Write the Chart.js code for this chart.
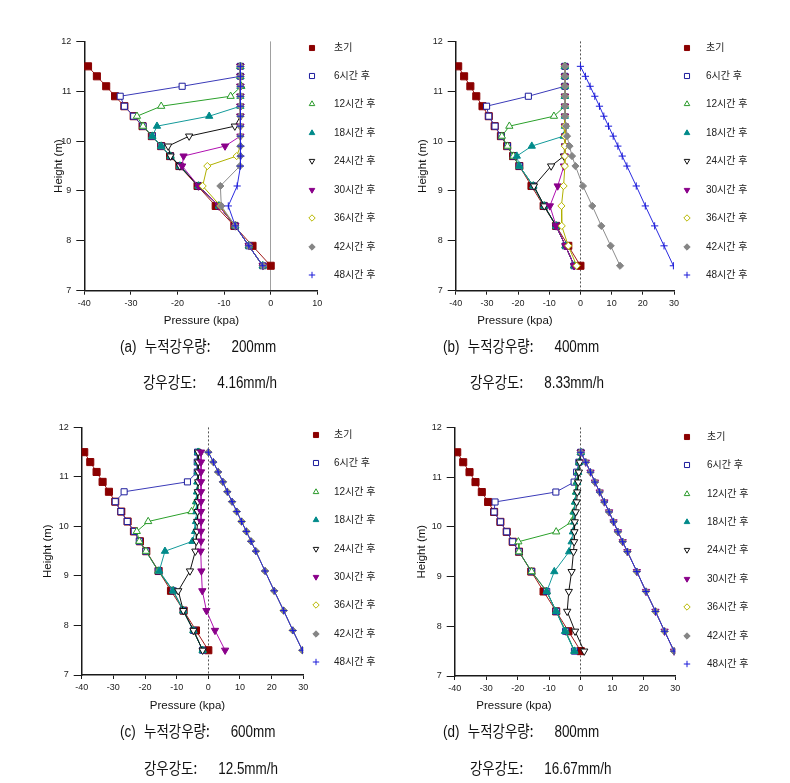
<!DOCTYPE html>
<html>
<head>
<meta charset="utf-8">
<script src="https://cdn.jsdelivr.net/npm/chart.js@4.4.1/dist/chart.umd.min.js"></script>
<style>
html,body{margin:0;padding:0;background:#fff}
body{width:790px;height:783px;position:relative;overflow:hidden;font-family:'Liberation Sans',Arial,sans-serif}
.box{position:absolute}
.lg{position:absolute;font:10px 'Liberation Sans','Noto Sans CJK KR',sans-serif;color:#222;white-space:nowrap;line-height:12px}
.mk{position:absolute}
.xt{position:absolute;font:11.5px 'Liberation Sans',Arial,sans-serif;color:#111;white-space:nowrap;line-height:14px;transform:translateX(-50%)}
.cap{position:absolute;font:16px 'Liberation Sans',Arial,sans-serif;color:#111;white-space:pre;line-height:20px;transform:scaleX(0.84);transform-origin:0 50%}
.cap .ko{font:16px 'Noto Sans CJK KR',sans-serif}
</style>
</head>
<body>
<script>
// heights of the observation nodes (m), top to bottom
const HEIGHTS = [11.5, 11.3, 11.1, 10.9, 10.7, 10.5, 10.3, 10.1, 9.9, 9.7, 9.5, 9.1, 8.7, 8.3, 7.9, 7.5];
const NAMES = ['초기', '6시간 후', '12시간 후', '18시간 후', '24시간 후', '30시간 후', '36시간 후', '42시간 후', '48시간 후'];
// initial pore pressure, same in every panel
const INIT = [-39.2, -37.3, -35.3, -33.4, -31.4, -29.4, -27.5, -25.5, -23.5, -21.6, -19.6, -15.7, -11.8, -7.8, -3.9, 0];

// (a) 200mm — rows: 6h,12h,18h,24h,30h,36h,42h,48h
const PRESS_A = [
  [-6.5, -6.5, -19.0, -32.3, -31.4, -29.4, -27.4, -25.4, -23.5, -21.5, -19.5, -15.5, -11.1, -7.6, -4.7, -1.7],
  [-6.5, -6.5, -6.3, -8.6, -23.5, -28.7, -27.4, -25.4, -23.5, -21.5, -19.5, -15.5, -11.1, -7.6, -4.7, -1.7],
  [-6.5, -6.5, -6.5, -6.5, -6.5, -13.2, -24.4, -25.4, -23.5, -21.5, -19.5, -15.5, -11.1, -7.6, -4.7, -1.7],
  [-6.5, -6.5, -6.5, -6.5, -6.5, -6.5, -7.7, -17.5, -22.0, -21.5, -19.5, -15.5, -11.1, -7.6, -4.7, -1.7],
  [-6.5, -6.5, -6.5, -6.5, -6.5, -6.5, -6.5, -6.5, -9.8, -18.7, -19.0, -15.5, -11.1, -7.6, -4.7, -1.7],
  [-6.5, -6.5, -6.5, -6.5, -6.5, -6.5, -6.5, -6.5, -6.5, -7.3, -13.6, -14.6, -10.8, -7.6, -4.7, -1.7],
  [-6.5, -6.5, -6.5, -6.5, -6.5, -6.5, -6.5, -6.5, -6.5, -6.5, -6.6, -10.8, -10.6, -7.6, -4.7, -1.7],
  [-6.5, -6.5, -6.5, -6.5, -6.5, -6.5, -6.5, -6.5, -6.4, -6.4, -6.5, -7.2, -9.1, -7.6, -4.7, -1.7]
];
// (b) 400mm
const PRESS_B = [
  [-5.0, -5.0, -5.0, -16.7, -30.1, -29.4, -27.4, -25.4, -23.4, -21.5, -19.6, -15.1, -11.6, -7.8, -4.8, -2.0],
  [-5.0, -5.0, -5.0, -5.0, -5.0, -8.5, -22.8, -25.2, -23.4, -21.5, -19.6, -15.1, -11.6, -7.8, -4.8, -2.0],
  [-5.0, -5.0, -5.0, -5.0, -5.0, -5.0, -5.0, -5.4, -15.6, -20.4, -19.6, -15.1, -11.6, -7.8, -4.8, -2.0],
  [-5.0, -5.0, -5.0, -5.0, -5.0, -5.0, -5.0, -5.0, -5.0, -5.3, -9.4, -14.9, -11.6, -7.8, -4.8, -2.0],
  [-5.0, -5.0, -5.0, -5.0, -5.0, -5.0, -5.0, -5.0, -5.0, -5.0, -5.3, -7.3, -9.8, -7.8, -4.8, -2.0],
  [-5.0, -5.0, -5.0, -5.0, -5.0, -5.0, -5.0, -5.0, -5.0, -5.0, -5.0, -5.4, -6.1, -6.0, -3.9, -1.2],
  [-5.0, -5.0, -5.0, -5.0, -5.0, -5.0, -4.6, -4.3, -3.5, -2.7, -1.6, 0.8, 3.8, 6.7, 9.7, 12.7],
  [0.0, 1.6, 3.1, 4.6, 6.1, 7.5, 9.0, 10.5, 12.0, 13.4, 14.9, 17.9, 20.8, 23.8, 26.8, 29.8]
];
// (c) 600mm
const PRESS_C = [
  [-3.4, -3.5, -3.5, -6.6, -26.6, -29.4, -27.6, -25.6, -23.4, -21.8, -19.7, -15.8, -11.1, -7.9, -4.7, -1.8],
  [-3.0, -3.2, -3.2, -3.3, -3.4, -3.9, -5.3, -19.0, -22.6, -21.8, -19.7, -15.8, -11.1, -7.9, -4.7, -1.8],
  [-3.3, -3.3, -3.4, -3.5, -3.6, -3.7, -3.8, -3.9, -4.2, -5.0, -13.7, -15.5, -11.1, -7.9, -4.7, -1.8],
  [-3.2, -3.2, -3.2, -3.2, -3.3, -3.3, -3.4, -3.5, -3.6, -3.8, -4.1, -5.8, -9.5, -7.9, -4.7, -1.8],
  [-2.3, -2.3, -2.3, -2.3, -2.3, -2.3, -2.3, -2.3, -2.3, -2.3, -2.4, -2.2, -1.9, -0.6, 2.1, 5.3],
  [0.0, 1.6, 3.1, 4.6, 6.0, 7.5, 9.0, 10.5, 12.0, 13.5, 15.0, 17.9, 20.8, 23.8, 26.7, 29.7],
  [0.0, 1.6, 3.1, 4.6, 6.0, 7.5, 9.0, 10.5, 12.0, 13.5, 15.0, 17.9, 20.8, 23.8, 26.7, 29.7],
  [0.0, 1.6, 3.1, 4.6, 6.0, 7.5, 9.0, 10.5, 12.0, 13.5, 15.0, 17.9, 20.8, 23.8, 26.7, 29.7]
];
// (d) 800mm
const PRESS_D = [
  [0.0, -0.6, -1.3, -2.1, -7.9, -27.2, -27.5, -25.5, -23.5, -21.6, -19.6, -15.6, -10.8, -7.8, -4.8, -2.0],
  [0.0, -0.5, -0.9, -1.3, -1.5, -1.8, -2.3, -2.9, -7.8, -19.8, -19.6, -15.6, -10.8, -7.8, -4.8, -2.0],
  [0.0, -0.4, -0.8, -1.1, -1.4, -1.8, -2.1, -2.1, -2.5, -2.9, -3.7, -8.4, -10.8, -7.8, -5.0, -2.0],
  [0.0, -0.3, -0.6, -0.8, -1.1, -1.3, -1.6, -1.9, -2.0, -2.1, -2.3, -2.9, -3.8, -4.3, -1.8, 1.1],
  [0.0, 1.6, 3.1, 4.5, 6.0, 7.5, 9.0, 10.4, 11.8, 13.3, 14.8, 17.8, 20.7, 23.7, 26.6, 29.6],
  [0.0, 1.6, 3.1, 4.5, 6.0, 7.5, 9.0, 10.4, 11.8, 13.3, 14.8, 17.8, 20.7, 23.7, 26.6, 29.6],
  [0.0, 1.6, 3.1, 4.5, 6.0, 7.5, 9.0, 10.4, 11.8, 13.3, 14.8, 17.8, 20.7, 23.7, 26.6, 29.6],
  [0.0, 1.6, 3.1, 4.5, 6.0, 7.5, 9.0, 10.4, 11.8, 13.3, 14.8, 17.8, 20.7, 23.7, 26.6, 29.6]
];

const X_MAX = [10, 30, 30, 30];
const X_MIN = -40, Y_MIN = 7, Y_MAX = 12;
const X_TITLE = 'Pressure (kpa)', Y_TITLE = 'Height (m)';
const CAPTIONS = ['(a) 누적강우량: 200mm', '(b) 누적강우량: 400mm', '(c) 누적강우량: 600mm', '(d) 누적강우량: 800mm'];
const INTENSITY = ['강우강도: 4.16mm/h', '강우강도: 8.33mm/h', '강우강도: 12.5mm/h', '강우강도: 16.67mm/h'];

// marker / line look per series
const STY = [
  {c:'#8b0000', l:'#a01818', ps:'rect', r:5},
  {c:'#1c1c9c', l:'#3a3ab8', ps:'rect', r:4.3, open:1},
  {c:'#2a9a2a', l:'#2aa02a', ps:'triangle', r:4.2, open:1},
  {c:'#008a8a', l:'#139a9a', ps:'triangle', r:4.2},
  {c:'#111111', l:'#111111', ps:'triangle', r:4.2, open:1, rot:180},
  {c:'#8a008a', l:'#b010b0', ps:'triangle', r:4.2, rot:180},
  {c:'#b8b800', l:'#b0b000', ps:'rectRot', r:3.6, open:1},
  {c:'#858585', l:'#8c8c8c', ps:'rectRot', r:3.6},
  {c:'#1a1ad8', l:'#2a2ae0', ps:'cross', r:3.6}
];

// where each panel sits on the page
const GEO = [
  {L:84.3, R:317.3, T:41, B:290.7, yT:25, dash:[], zc:'#a0a0a0', mx:311.5, tx:334, ly:47.5, dy:28.45, xtx:201.5, xty:320, c1x:120, c1y:343, c2x:143, c2y:379},
  {L:455.7, R:674, T:41, B:290.7, yT:33, dash:[2,2], zc:'#555', mx:686.5, tx:706, ly:47.5, dy:28.45, xtx:515, xty:320, c1x:443, c1y:343, c2x:470, c2y:379},
  {L:81.7, R:303.3, T:427.3, B:675, yT:34, dash:[2,2], zc:'#555', mx:316, tx:334, ly:435, dy:28.4, xtx:187.5, xty:705, c1x:120, c1y:728, c2x:144, c2y:765},
  {L:454.7, R:675.3, T:427.3, B:676, yT:33, dash:[2,2], zc:'#555', mx:687, tx:707, ly:436.7, dy:28.4, xtx:514, xty:705, c1x:443, c1y:728, c2x:470, c2y:765}
];
const ROWS = [PRESS_A, PRESS_B, PRESS_C, PRESS_D];

const AX = '#1a1a1a';
const tickFont = {family:"'Liberation Sans', Arial, sans-serif", size:9};

function el(tag, cls, css, txt, parent){
  const e=document.createElement(tag); if(cls)e.className=cls;
  Object.assign(e.style, css||{}); if(txt!=null)e.textContent=txt;
  (parent||document.body).appendChild(e); return e;
}

function drawMark(ctx, s, x, y, r){
  ctx.strokeStyle=s.c; ctx.fillStyle=s.open?'#fff':s.c; ctx.lineWidth=1;
  const o={pointStyle:s.ps, radius:r, rotation:s.rot||0, borderWidth:1};
  if(Chart.helpers && Chart.helpers.drawPoint){ Chart.helpers.drawPoint(ctx,o,x,y); return; }
  ctx.beginPath(); ctx.rect(x-r*0.7,y-r*0.7,r*1.4,r*1.4); ctx.fill(); ctx.stroke();
}

// caption line: optional "(x)" prefix, hangul label + colon, then the value (whole line squeezed 0.84)
function caption(x, y, str){
  const [lab, val] = str.split(': ');
  const d=el('div','cap',{left:x+'px',top:(y-10)+'px'});
  const m=lab.match(/^(\(.\)) ?(.*)$/);
  let ko;
  if(m){ el('span',null,null,m[1],d); ko=m[2]; } else ko=lab;
  el('span','ko',{marginLeft:m?'10px':'0'},ko+':',d);
  el('span',null,{marginLeft:'25px'},val,d);
}

function panel(i){
  const g=GEO[i], rows=ROWS[i];
  const yW=g.yT+11, xH=22;
  const left=Math.floor(g.L-yW-4), top=Math.floor(g.T-10);
  const w=Math.ceil(g.R+10-left), h=Math.ceil(g.B+xH+4-top);
  const pad={left:g.L-yW-left, top:g.T-top, right:left+w-g.R, bottom:top+h-g.B-xH};
  const box=el('div','box',{left:left+'px',top:top+'px',width:w+'px',height:h+'px'});
  const cv=document.createElement('canvas'); cv.width=w; cv.height=h; box.appendChild(cv);

  const datasets=NAMES.map((n,k)=>{
    const vals=k===0?INIT:rows[k-1], s=STY[k];
    return {label:n, data:vals.map((x,j)=>({x, y:HEIGHTS[j]})), showLine:true, tension:0,
      borderColor:s.l, backgroundColor:s.l, borderWidth:1,
      pointStyle:s.ps, pointRotation:s.rot||0, pointRadius:s.r, pointHoverRadius:s.r,
      pointBorderColor:s.c, pointBackgroundColor:s.open?'#fff':s.c, pointBorderWidth:1,
      order:8-k};
  });

  new Chart(cv,{type:'scatter',data:{datasets},options:{
    responsive:false, animation:false, events:[],
    layout:{padding:pad},
    plugins:{legend:{display:false},tooltip:{enabled:false}},
    scales:{
      x:{type:'linear',min:X_MIN,max:X_MAX[i],
        ticks:{stepSize:10,color:'#222',font:tickFont,padding:3,maxRotation:0,autoSkip:false},
        grid:{drawOnChartArea:true,lineWidth:1,tickLength:4,tickColor:AX,
          color:c=>(c.tick&&c.tick.value===0)?g.zc:'rgba(0,0,0,0)'},
        border:{color:AX,width:1.5,dash:g.dash},
        afterFit:s=>{s.height=xH;}},
      y:{type:'linear',min:Y_MIN,max:Y_MAX,
        ticks:{stepSize:1,color:'#222',font:tickFont,padding:5},
        grid:{drawOnChartArea:false,tickLength:8,tickColor:AX},
        border:{color:AX,width:1.5},
        title:{display:true,text:Y_TITLE,color:'#111',padding:{top:4,bottom:4},
          font:{family:"'Liberation Sans', Arial, sans-serif",size:11.5}},
        afterFit:s=>{s.width=yW;}}
    }}});

  // legend
  NAMES.forEach((n,k)=>{
    const cy=g.ly+k*g.dy;
    const m=el('canvas','mk',{left:(g.mx-6)+'px',top:(cy-6)+'px'}); m.width=12; m.height=12;
    drawMark(m.getContext('2d'),STY[k],6,6,STY[k].ps==='rect'?3.6:3.2);
    el('div','lg',{left:g.tx+'px',top:(cy-6)+'px'},n);
  });
  el('div','xt',{left:g.xtx+'px',top:(g.xty-7)+'px'},X_TITLE);
  caption(g.c1x,g.c1y,CAPTIONS[i]);
  caption(g.c2x,g.c2y,INTENSITY[i]);
}

[0,1,2,3].forEach(panel);
</script>
</body>
</html>
